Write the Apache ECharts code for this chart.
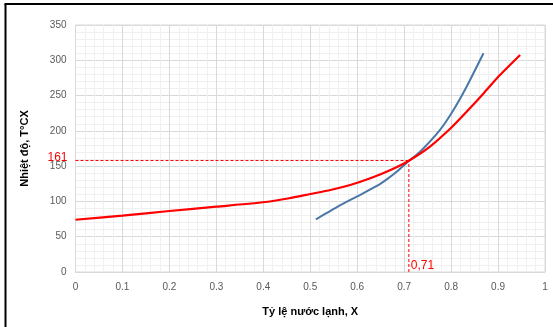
<!DOCTYPE html>
<html><head><meta charset="utf-8">
<script src="https://cdn.jsdelivr.net/npm/echarts@6/dist/echarts.min.js"></script>
<style>html,body{margin:0;padding:0;background:#fff}#c{width:553px;height:327px}</style>
</head><body><div id="c"></div>
<script>
// Red curve (temperature vs cold-water fraction)
const redX = [0, 0.1, 0.2, 0.3, 0.41, 0.455, 0.5, 0.543, 0.585, 0.628, 0.671, 0.711, 0.755, 0.799, 0.833, 0.869, 0.904, 0.947];
const redT = [74, 80, 86.4, 92.6, 99.5, 104.5, 110.5, 116.2, 123.3, 132.8, 144.5, 158, 177.6, 203.6, 227, 253, 279, 307.5];
// Blue curve
const blueX = [0.512, 0.556, 0.599, 0.642, 0.663, 0.684, 0.711, 0.734, 0.776, 0.805, 0.833, 0.869];
const blueT = [74.7, 91.7, 106.8, 121.9, 131.3, 142, 158, 170.5, 201, 229.6, 262.6, 310];
// Intersection marker (line position and its printed labels)
const crossX = 0.71, crossT = 158;
const crossXLabel = '0,71', crossTLabel = '161';
const xTitle = 'Tỷ lệ nước lạnh, X';
const yTitle = 'Nhiệt độ, T°CX';

const zip = (a, b) => a.map((v, i) => [v, b[i]]);
const font = 'Liberation Sans';
const chart = echarts.init(document.getElementById('c'));
chart.setOption({
  animation: false,
  textStyle: {fontFamily: font},
  grid: {left: 75.5, right: 8, top: 25, bottom: 55, show: true, borderColor: '#d9d9d9', borderWidth: 1},
  graphic: [
    {type: 'line', shape: {x1: 5.5, y1: 4, x2: 5.5, y2: 327}, style: {stroke: '#000', lineWidth: 2}},
    {type: 'line', shape: {x1: 4.5, y1: 4, x2: 553, y2: 4}, style: {stroke: '#000', lineWidth: 2}}
  ],
  xAxis: {
    type: 'value', min: 0, max: 1, interval: 0.1,
    name: xTitle, nameLocation: 'middle', nameGap: 34,
    nameTextStyle: {fontFamily: font, fontWeight: 'bold', fontSize: 11, color: '#000'},
    axisLine: {show: true, lineStyle: {color: '#d9d9d9'}},
    axisTick: {show: false},
    axisLabel: {color: '#595959', fontSize: 10, margin: 10, fontFamily: font},
    splitLine: {show: true, lineStyle: {color: '#d9d9d9', width: 1}},
    minorTick: {show: false, splitNumber: 5},
    minorSplitLine: {show: true, lineStyle: {color: '#f0f0f0', width: 1}}
  },
  yAxis: {
    type: 'value', min: 0, max: 350, interval: 50,
    name: yTitle, nameLocation: 'middle', nameGap: 45, nameRotate: 90,
    nameTextStyle: {fontFamily: font, fontWeight: 'bold', fontSize: 11, color: '#000'},
    axisLine: {show: false},
    axisTick: {show: false},
    axisLabel: {color: '#595959', fontSize: 10, margin: 9, fontFamily: font},
    splitLine: {show: true, lineStyle: {color: '#d9d9d9', width: 1}},
    minorTick: {show: false, splitNumber: 5},
    minorSplitLine: {show: true, lineStyle: {color: '#f0f0f0', width: 1}}
  },
  series: [
    {type: 'line', data: [[0, crossT], [crossX, crossT]], showSymbol: false, silent: true,
     lineStyle: {color: '#ff0000', width: 1, type: [3, 2]},
     markPoint: {symbol: 'circle', symbolSize: 0, data: [
       {coord: [0, crossT], value: crossTLabel,
        label: {show: true, position: 'left', distance: 8, offset: [0, -3], formatter: crossTLabel, color: '#ff0000', fontSize: 12, fontFamily: font}}
     ]}},
    {type: 'line', data: [[crossX, 0], [crossX, crossT]], showSymbol: false, silent: true,
     lineStyle: {color: '#ff0000', width: 1, type: [3, 2]},
     markPoint: {symbol: 'circle', symbolSize: 0, data: [
       {coord: [crossX, 0], value: crossXLabel,
        label: {show: true, position: 'right', distance: 2, offset: [0, -6], formatter: crossXLabel, color: '#ff0000', fontSize: 12, fontFamily: font}}
     ]}},
    {type: 'line', data: zip(blueX, blueT), smooth: 0.2, showSymbol: false,
     lineStyle: {color: '#4a77a6', width: 2}},
    {type: 'line', data: zip(redX, redT), smooth: 0.2, showSymbol: false,
     lineStyle: {color: '#ff0000', width: 2.2}}
  ]
});
</script></body></html>
